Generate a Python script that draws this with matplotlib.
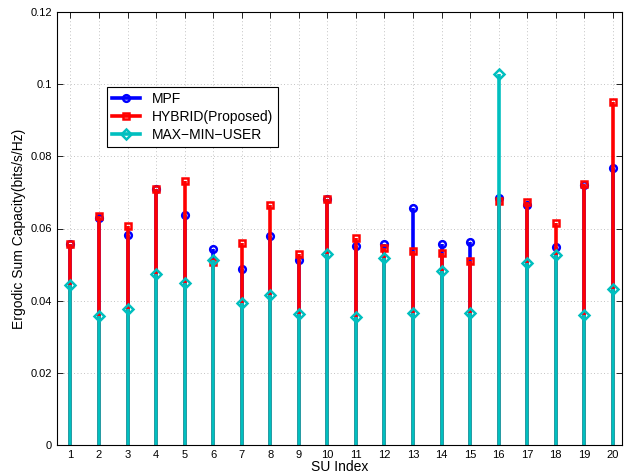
import numpy as np
import matplotlib
matplotlib.use("Agg")
import matplotlib.pyplot as plt
from matplotlib.lines import Line2D
from matplotlib.legend_handler import HandlerLine2D
from matplotlib.ticker import FuncFormatter

plt.rcParams['font.family'] = ['Liberation Sans', 'DejaVu Sans']

su_index = np.arange(1, 21)
mpf = [0.0556, 0.0629, 0.0583, 0.0710, 0.0638, 0.0542, 0.0489, 0.0579, 0.0512, 0.0681,
       0.0552, 0.0556, 0.0656, 0.0556, 0.0563, 0.0684, 0.0665, 0.0549, 0.0721, 0.0769]
hybrid = [0.0557, 0.0635, 0.0606, 0.0709, 0.0731, 0.0507, 0.0561, 0.0664, 0.0528, 0.0682,
          0.0575, 0.0547, 0.0538, 0.0533, 0.0509, 0.0675, 0.0674, 0.0616, 0.0722, 0.0950]
maxmin = [0.0444, 0.0357, 0.0378, 0.0474, 0.0450, 0.0514, 0.0393, 0.0415, 0.0364, 0.0529,
          0.0354, 0.0519, 0.0366, 0.0482, 0.0366, 0.1027, 0.0504, 0.0526, 0.0361, 0.0433]
labels = ['MPF', 'HYBRID(Proposed)', 'MAX\u2212MIN\u2212USER']
colors = ['#0000ff', '#ff0000', '#00bfbf']
markers = ['o', 's', 'D']
msizes = [4.8, 4.6, 4.6]

fig = plt.figure(figsize=(6.24, 4.76), dpi=100)
ax = fig.add_axes([56.7 / 624, 31 / 476, 565.3 / 624, 433 / 476])

handles = []
for vals, c, m, ms, lab in zip([mpf, hybrid, maxmin], colors, markers, msizes, labels):
    ml, sl, bl = ax.stem(su_index, vals, basefmt=' ')
    sl.set_color(c)
    sl.set_linewidth(2.6)
    ml.set_marker(m)
    ml.set_markersize(ms)
    ml.set_markeredgecolor(c)
    ml.set_markerfacecolor('none')
    ml.set_markeredgewidth(1.8)
    handles.append(Line2D([], [], color=c, lw=2.6, marker=m, markersize=ms,
                          markeredgecolor=c, markerfacecolor='none', markeredgewidth=1.8))


class EndMarker(HandlerLine2D):
    # marker only at the right end of the legend line, like MATLAB
    def get_xdata(self, legend, xdescent, ydescent, width, height, fontsize):
        return [-xdescent, -xdescent + width], [-xdescent + width]


ax.set_xlim(0.52, 20.32)
ax.set_ylim(0, 0.12)
ax.set_xticks(su_index)
ax.set_yticks(np.arange(0, 0.121, 0.02))
ax.yaxis.set_major_formatter(FuncFormatter(lambda v, p: '%g' % round(v, 4)))
ax.tick_params(direction='in', top=True, right=True, labelsize=8, length=4, width=0.6)
ax.grid(True, linestyle=(0, (1, 3)), color='#b0b0b0', linewidth=0.6)
for s in ax.spines.values():
    s.set_linewidth(0.8)

ax.set_xlabel('SU Index', fontsize=10, labelpad=0)
ax.set_ylabel('Ergodic Sum Capacity(bits/s/Hz)', fontsize=10, labelpad=3)

leg = ax.legend(handles, labels, loc='upper left', bbox_to_anchor=(0.089, 0.827),
                handler_map={Line2D: EndMarker()}, fontsize=10, frameon=True,
                fancybox=False, edgecolor='black', framealpha=1, handlelength=2.0,
                handletextpad=0.85, borderpad=0.35, labelspacing=0.3, borderaxespad=0)
leg.get_frame().set_linewidth(0.8)

fig.savefig('out.png', dpi=100)
